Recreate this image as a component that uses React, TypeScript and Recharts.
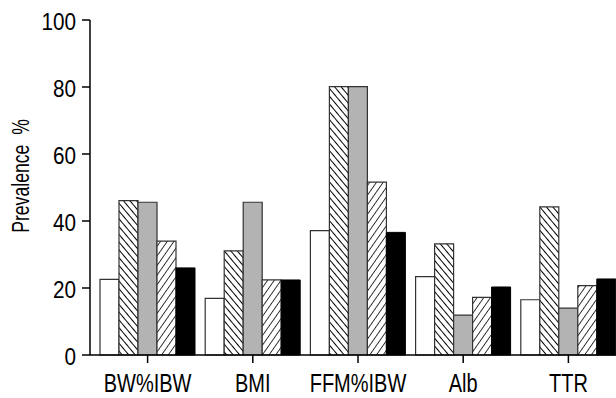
import React from "react";
import { BarChart, Bar, XAxis, YAxis } from "recharts";

const categories = ["BW%IBW", "BMI", "FFM%IBW", "Alb", "TTR"];
const groupA = [22.6, 16.9, 37.1, 23.4, 16.5];
const groupB = [46.1, 31.1, 80.1, 33.2, 44.2];
const groupC = [45.6, 45.6, 80.1, 11.9, 14.0];
const groupD = [34.0, 22.4, 51.6, 17.2, 20.7];
const groupE = [26.0, 22.4, 36.6, 20.3, 22.7];
const yTicks = [0, 20, 40, 60, 80, 100];

const data = categories.map((name, i) => ({
  name,
  a: groupA[i],
  b: groupB[i],
  c: groupC[i],
  d: groupD[i],
  e: groupE[i],
}));

const font = '"Liberation Sans", Arial, Helvetica, sans-serif';

// condensed look of the original: squeeze the text horizontally
const XTick = ({ x, y, payload }: any) => (
  <g transform={`translate(${x},${y}) scale(0.8,1)`}>
    <text x={0} y={0} dy="0.71em" textAnchor="middle" fontFamily={font} fontSize={25} fill="#000">
      {payload.value}
    </text>
  </g>
);

const YTick = ({ x, y, payload }: any) => (
  <g transform={`translate(${x},${y}) scale(0.9,1)`}>
    <text x={0} y={0} dy={9.9} textAnchor="end" fontFamily={font} fontSize={23} fill="#000">
      {payload.value}
    </text>
  </g>
);

const YLabel = () => (
  <text
    x={0}
    y={0}
    transform="translate(29, 176) rotate(-90) scale(0.72,1)"
    textAnchor="middle"
    fontFamily={font}
    fontSize={24.5}
    fill="#000"
  >
    Prevalence&#160;&#160;%
  </text>
);

export default function App() {
  return (
    <div style={{ position: "absolute", left: 0, top: 0, width: 616, height: 398, overflow: "hidden", background: "#fff" }}>
      <BarChart
        width={621}
        height={398}
        data={data}
        margin={{ top: 20, right: 0, bottom: 0, left: 0 }}
        barSize={19}
        barGap={0}
      >
        <defs>
          <pattern id="hatchBack" patternUnits="userSpaceOnUse" width="5" height="5" patternTransform="rotate(-40)">
            <rect width="5" height="5" fill="#fff" />
            <line x1="0" y1="0" x2="0" y2="5" stroke="#000" strokeWidth="2" />
          </pattern>
          <pattern id="hatchFwd" patternUnits="userSpaceOnUse" width="5.5" height="5.5" patternTransform="rotate(35)">
            <rect width="5.5" height="5.5" fill="#fff" />
            <line x1="0" y1="0" x2="0" y2="5.5" stroke="#222" strokeWidth="1.8" />
          </pattern>
        </defs>
        <XAxis
          dataKey="name"
          height={43}
          padding={{ left: 5, right: 0 }}
          axisLine={{ stroke: "#000", strokeWidth: 1.5 }}
          tickLine={{ stroke: "#000", strokeWidth: 1.5 }}
          tickSize={8}
          tickMargin={11}
          tick={<XTick />}
          interval={0}
        />
        <YAxis
          domain={[0, 100]}
          ticks={yTicks}
          width={90}
          axisLine={{ stroke: "#000", strokeWidth: 1.5 }}
          tickLine={{ stroke: "#000", strokeWidth: 1.5 }}
          tickSize={8}
          tickMargin={6}
          tick={<YTick />}
          label={<YLabel />}
        />
        <Bar dataKey="a" fill="#fff" stroke="#333" strokeWidth={1.2} isAnimationActive={false} />
        <Bar dataKey="b" fill="url(#hatchBack)" stroke="#333" strokeWidth={1.2} isAnimationActive={false} />
        <Bar dataKey="c" fill="#b3b3b3" stroke="#333" strokeWidth={1.2} isAnimationActive={false} />
        <Bar dataKey="d" fill="url(#hatchFwd)" stroke="#333" strokeWidth={1.2} isAnimationActive={false} />
        <Bar dataKey="e" fill="#000" stroke="#000" strokeWidth={1} isAnimationActive={false} />
      </BarChart>
    </div>
  );
}
